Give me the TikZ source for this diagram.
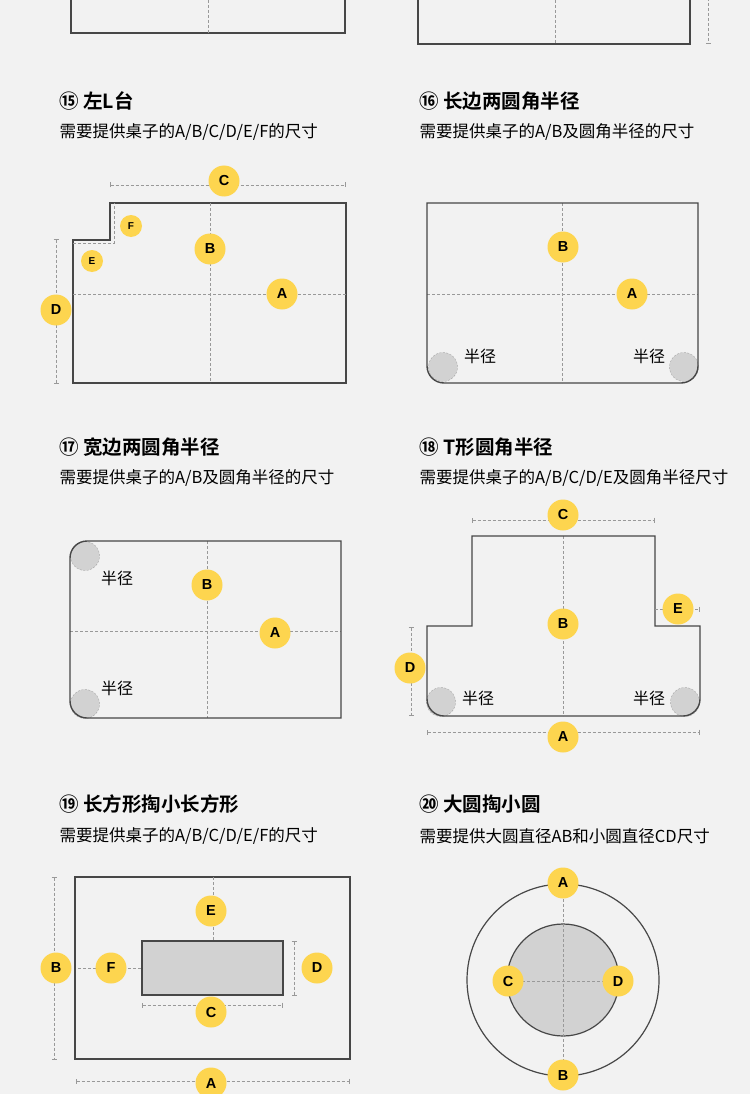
\documentclass[tikz,border=0pt]{standalone}
\usepackage{fontspec}
\setmainfont{Liberation Sans}
\newfontfamily\cjk{Noto Sans CJK SC}
\newfontfamily\cjkb{Noto Sans CJK SC Bold}
\usetikzlibrary{arrows.meta}
\begin{document}
\begin{tikzpicture}[x=1pt,y=-1pt,
 dim/.style={draw=gray!80,line width=0.8pt,dash pattern=on 3pt off 2pt},
 dimt/.style={dim,{|[width=5pt]}-{|[width=5pt]}},
 lab/.style={circle,fill=yellowc,minimum size=31pt,inner sep=0pt,font=\bfseries\fontsize{14.5}{14.5}\selectfont},
 slab/.style={lab,minimum size=22pt,font=\bfseries\fontsize{10}{10}\selectfont},
 rad/.style={circle,fill=gray!35,draw=gray!70,dash pattern=on 2pt off 1.5pt,minimum size=29pt,inner sep=0pt},
 ttl/.style={anchor=west,font=\cjkb\fontsize{19.5}{19.5}\selectfont},
 sub/.style={anchor=west,font=\cjk\fontsize{16.5}{16.5}\selectfont},
 rt/.style={font=\cjk\fontsize{16}{16}\selectfont}]
\definecolor{yellowc}{HTML}{FDD54F}
\colorlet{linec}{black!72}
\tikzset{outl/.style={draw=linec,line width=1.4pt}}
\fill[black!5] (0,0) rectangle (750,1094);
\useasboundingbox (0,0) rectangle (750,1094);
% top partial
\draw[outl] (71,-5) -- (71,33) -- (345,33) -- (345,-5);
\draw[dim] (208,0) -- (208,33);
\draw[outl] (418,-5) -- (418,44) -- (690,44) -- (690,-5);
\draw[dim] (555,0) -- (555,44);
\draw[dim,-{|[width=5pt]}] (708,-2) -- (708,44);
% 15
\node[ttl] (t15) at (56,101) {⑮ 左L台};
\node[sub] (s15) at (56,132) {需要提供桌子的A/B/C/D/E/F的尺寸};
\draw[outl] (73,240) -- (110,240) -- (110,203) -- (346,203) -- (346,383) -- (73,383) -- cycle;
\draw[dim] (210,203) -- (210,383);
\draw[dim] (73,294) -- (346,294);
\draw[dim] (73,243) -- (114,243) -- (114,203);
\draw[dimt] (110,185) -- (346,185);
\draw[dimt] (56,239) -- (56,384);
\node[lab] (c15) at (224,181) {C};
\node[lab] (b15) at (210,249) {B};
\node[lab] (a15) at (282,294) {A};
\node[lab] (d15) at (56,310) {D};
\node[slab] (f15) at (131,226) {F};
\node[slab] (e15) at (92,261) {E};
% 16
\node[ttl] (t16) at (416,101) {⑯ 长边两圆角半径};
\node[sub] (s16) at (416,132) {需要提供桌子的A/B及圆角半径的尺寸};
\draw[dim] (562,203) -- (562,383);
\draw[dim] (427,294) -- (698,294);
\node[rad] (r16a) at (443,367) {};
\node[rad] (r16b) at (684,367) {};
\draw[outl] (427,203) -- (698,203) -- (698,366) arc[start angle=0,end angle=90,radius=17] -- (444,383) arc[start angle=90,end angle=180,radius=17] -- cycle;
\node[lab] (b16) at (563,247) {B};
\node[lab] (a16) at (632,294) {A};
\node[rt] (h16a) at (480,356) {半径};
\node[rt] (h16b) at (649,356) {半径};
% 17
\node[ttl] (t17) at (56,447) {⑰ 宽边两圆角半径};
\node[sub] (s17) at (56,478) {需要提供桌子的A/B及圆角半径的尺寸};
\draw[dim] (207,541) -- (207,718);
\draw[dim] (70,631) -- (341,631);
\node[rad] (r17a) at (85,556) {};
\node[rad] (r17b) at (85,704) {};
\draw[outl] (87,541) -- (341,541) -- (341,718) -- (87,718) arc[start angle=90,end angle=180,radius=17] -- (70,558) arc[start angle=180,end angle=270,radius=17] -- cycle;
\node[lab] (b17) at (207,585) {B};
\node[lab] (a17) at (275,633) {A};
\node[rt] (h17a) at (117,578) {半径};
\node[rt] (h17b) at (117,688) {半径};
% 18
\node[ttl] (t18) at (416,447) {⑱ T形圆角半径};
\node[sub] (s18) at (416,478) {需要提供桌子的A/B/C/D/E及圆角半径尺寸};
\draw[dim] (563,536) -- (563,716);
\node[rad] (r18a) at (441,702) {};
\node[rad] (r18b) at (685,702) {};
\draw[outl] (472,536) -- (655,536) -- (655,626) -- (700,626) -- (700,699) arc[start angle=0,end angle=90,radius=17] -- (444,716) arc[start angle=90,end angle=180,radius=17] -- (427,626) -- (472,626) -- cycle;
\draw[dimt] (472,520) -- (655,520);
\draw[dim,-{|[width=5pt]}] (655,609) -- (700,609);
\draw[dimt] (411,627) -- (411,716);
\draw[dimt] (427,732) -- (700,732);
\node[lab] (c18) at (563,515) {C};
\node[lab] (b18) at (563,624) {B};
\node[lab] (e18) at (678,609) {E};
\node[lab] (d18) at (410,668) {D};
\node[lab] (a18) at (563,737) {A};
\node[rt] (h18a) at (478,698) {半径};
\node[rt] (h18b) at (649,698) {半径};
% 19
\node[ttl] (t19) at (56,804) {⑲ 长方形掏小长方形};
\node[sub] (s19) at (56,836) {需要提供桌子的A/B/C/D/E/F的尺寸};
\draw[outl] (75,877) rectangle (350,1059);
\draw[outl,fill=gray!35] (142,941) rectangle (283,995);
\draw[dim] (213,877) -- (213,941);
\draw[dim] (78,968) -- (142,968);
\draw[dimt] (54,877) -- (54,1060);
\draw[dimt] (294,941) -- (294,996);
\draw[dimt] (142,1005) -- (283,1005);
\draw[dimt] (76,1081) -- (350,1081);
\node[lab] (e19) at (211,911) {E};
\node[lab] (f19) at (111,968) {F};
\node[lab] (b19) at (56,968) {B};
\node[lab] (d19) at (317,968) {D};
\node[lab] (c19) at (211,1012) {C};
\node[lab] (a19) at (211,1083) {A};
% 20
\node[ttl] (t20) at (416,804) {⑳ 大圆掏小圆};
\node[sub] (s20) at (416,836) {需要提供大圆直径AB和小圆直径CD尺寸};
\draw[outl,line width=1.2pt] (563,980) circle[radius=96];
\draw[outl,line width=1.2pt,fill=gray!35] (563,980) circle[radius=56];
\draw[dim] (563,884) -- (563,1076);
\draw[dim] (507,981) -- (619,981);
\node[lab] (a20) at (563,883) {A};
\node[lab] (b20) at (563,1075) {B};
\node[lab] (c20) at (508,981) {C};
\node[lab] (d20) at (618,981) {D};
\end{tikzpicture}
\end{document}
